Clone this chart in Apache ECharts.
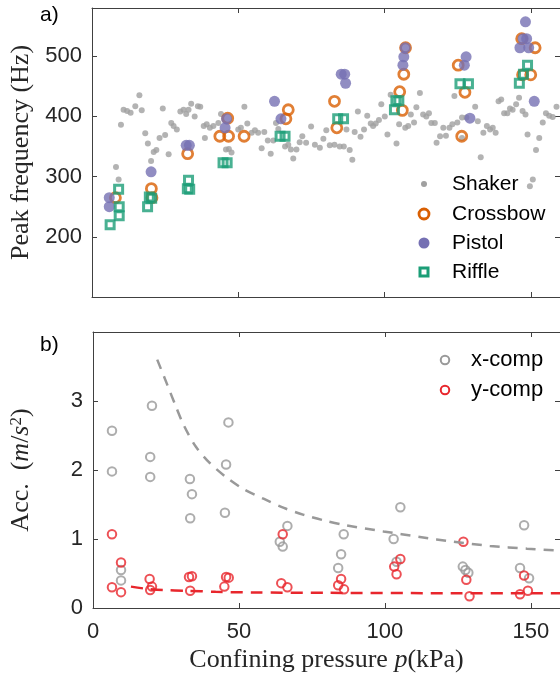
<!DOCTYPE html>
<html>
<head>
<meta charset="utf-8">
<title>Peak frequency / Acc.</title>
<script src="https://cdn.jsdelivr.net/npm/echarts@6/dist/echarts.min.js"></script>
<style>
  html, body { margin: 0; padding: 0; background: #fff; }
  #chart { width: 560px; height: 681px; }
</style>
</head>
<body>
<div id="chart"></div>
<script>
// ---- panel a) peak frequency (Hz) vs confining pressure (kPa) ----
var shaker = [
  [8.2,316],[9.1,295],[9.9,386],[10.8,411],[12,409],[13.2,406],[14.8,417],[16.2,435],[17,410],[18.2,372],
  [19.1,355],[20.2,326],[21.1,341],[22,344],[23.1,364],[24.2,413],[25,369],[26.2,337],[27.1,389],[27.9,384],
  [29,378],[30.2,408],[31.3,411],[32.2,404],[33,411],[33.9,421],[35.1,400],[36.2,417],[37,416],[38.2,384],
  [38.6,364],[39.2,387],[40.3,381],[41.5,384],[43.2,389],[44.1,404],[45.8,345],[46.8,346],[47.7,340],[50,378],
  [50.9,381],[52.1,416],[53.1,388],[54.6,373],[55.7,377],[56.8,373],[58,347],[58.9,374],[60.1,360],[61.1,338],
  [62,360],[62.9,389],[63.7,379],[66,350],[67.1,353],[68,345],[68.8,330],[69.9,345],[71,357],[71.9,367],
  [73.2,356],[74.9,383],[76.2,353],[77.9,348],[79.1,363],[80.1,377],[81.3,352],[82.9,353],[84.7,350],[86.1,350],
  [87,378],[88.1,344],[89,328],[89.8,374],[90.9,408],[91.8,366],[93,378],[94.1,401],[95.3,388],[96.1,384],
  [97,388],[98.1,394],[98.9,420],[100.1,400],[101,370],[102.1,436],[104.1,355],[105,387],[107.1,381],[108.1,384],
  [109,403],[110.1,390],[110.9,415],[112.1,439],[113.2,403],[114.3,400],[115.2,405],[116,389],[117.2,389],[117.8,356],
  [119,367],[120.1,381],[121,368],[122.2,381],[123.2,387],[123.9,434],[124.9,390],[126.5,398],[126.5,364],[128,398],
  [131,416],[131.9,392],[132.9,332],[133.8,373],[135,384],[136.1,378],[137,381],[138,373],[139,425],[139.9,428],
  [140.9,405],[142,405],[142.9,413],[143.8,411],[145,420],[146,431],[147.2,409],[148.2,403],[148.9,370],[149.7,284],
  [150.7,295],[151.8,344],[152.9,364],[154.1,390],[155.2,405],[156.3,401],[157.5,399],[158.8,416]
];
var crossbow = [
  [8,265],[20.3,280],[20.5,265],[32.7,338],[43.7,367],[46.4,397],[46.7,367],[52,367],[66.3,396],[67.1,411],
  [82.9,425],[83.7,381],[105.2,441],[106.1,410],[106.6,470],[107.2,514],[125.2,485],[126.4,367],[127.5,440],
  [146.9,529],[147.2,469],[150,469],[151.5,514]
];
var pistol = [
  [5.9,265],[5.9,250],[20.2,308],[32.2,352],[33.3,352],[45.5,381],[46,396],[62.4,425],[64.6,396],[85.2,470],
  [86.4,470],[86.7,455],[106.3,485],[106.6,499],[107.1,514],[127.3,485],[127.9,499],[129.2,397],[146.3,514],
  [147.4,529],[148.2,557],[148.6,529],[149.3,514],[151.2,425]
];
var riffle = [
  [6.2,220],[9.1,279],[9.3,250],[9.3,235],[19,250],[19.6,266],[20.4,264],[32.6,280],[33.4,279],[33,294],
  [44.8,323],[46.2,323],[64.3,367],[66,367],[84,396],[86,396],[103.4,411],[103.9,426],[104.9,426],
  [125.8,454],[128.7,454],[146.1,455],[147.5,470],[148.9,485]
];

// ---- panel b) acceleration (m/s^2) vs confining pressure ----
var xComp = [
  [6.5,2.57],[6.5,1.98],[9.6,0.55],[9.6,0.40],[20.2,2.93],[19.6,2.19],[19.6,1.90],[33.2,1.87],[33.9,1.65],[33.3,1.30],
  [46.4,2.69],[45.6,2.08],[45.2,1.38],[64,0.96],[65,0.89],[66.6,1.19],[84,0.58],[85,0.78],[85.9,1.07],[103,1.0],
  [104,0.67],[105.3,1.46],[126.7,0.60],[127.6,0.55],[128.6,0.51],[146.3,0.58],[147.7,1.20],[149.4,0.43]
];
var yComp = [
  [6.5,1.07],[9.6,0.66],[6.5,0.30],[9.6,0.23],[19.4,0.42],[20.2,0.31],[19.6,0.26],[32.9,0.45],[33.9,0.46],[33.3,0.25],
  [45.6,0.45],[46.5,0.44],[45,0.31],[65,1.07],[64.5,0.36],[66.6,0.30],[85,0.42],[84,0.33],[86,0.27],[105.3,0.71],
  [103.2,0.60],[104,0.49],[126.9,0.96],[127.9,0.41],[129,0.17],[147.7,0.47],[146.3,0.20],[149,0.25]
];
// dashed trend lines
var xFit = [
  [22,3.6],[25.5,3.23],[28.4,2.92],[31.2,2.64],[35.2,2.34],[39.8,2.11],[45.5,1.90],[51.7,1.72],[58.6,1.58],
  [65.4,1.45],[72.2,1.35],[79.1,1.27],[86.5,1.20],[99.5,1.11],[112,1.03],[123.4,0.96],[136,0.90],[148.7,0.86],[160,0.83]
];
var yFit = [
  [13,0.31],[18,0.28],[24,0.26],[32,0.25],[42,0.235],[55,0.225],[80,0.22],[120,0.215],[160,0.215]
];

// tick values
var pTicks = { min: 0, max: 160, interval: 50 };
var hzTicks = { min: 100, max: 580, interval: 100 };
var accTicks = { min: 0, max: 4, interval: 1 };

var axisColor = '#404040';
var labelFont = { fontFamily: 'Liberation Sans', fontSize: 22, color: '#262626' };
var serif = 'Liberation Serif';

// one axis with inward ticks, like a boxed plot
function boxAxis(grid, pos, ticks, withLabels) {
  return {
    type: 'value',
    gridIndex: grid,
    position: pos,
    min: ticks.min,
    max: ticks.max,
    interval: ticks.interval,
    axisLine: { show: true, onZero: false, lineStyle: { color: axisColor, width: 1 } },
    axisTick: { show: true, inside: true, length: 5, lineStyle: { color: axisColor } },
    axisLabel: {
      show: withLabels,
      showMinLabel: pos === 'bottom',
      showMaxLabel: false,
      margin: 10,
      fontFamily: labelFont.fontFamily,
      fontSize: labelFont.fontSize,
      color: labelFont.color
    },
    splitLine: { show: false }
  };
}

var xAxes = [
  boxAxis(0, 'bottom', pTicks, false),
  boxAxis(0, 'top', pTicks, false),
  boxAxis(1, 'bottom', pTicks, true),
  boxAxis(1, 'top', pTicks, false)
];
xAxes[2].axisLabel.margin = 13;
xAxes[2].name = 'Confining pressure {i|p}(kPa)';
xAxes[2].nameLocation = 'middle';
xAxes[2].nameGap = 39;
xAxes[2].nameTextStyle = {
  fontFamily: serif, fontSize: 26, color: '#262626',
  rich: { i: { fontFamily: serif, fontStyle: 'italic', fontSize: 26, color: '#262626' } }
};

var yAxes = [
  boxAxis(0, 'left', hzTicks, true),
  boxAxis(0, 'right', hzTicks, false),
  boxAxis(1, 'left', accTicks, true),
  boxAxis(1, 'right', accTicks, false)
];
yAxes[0].axisLabel.showMinLabel = false;
yAxes[0].name = 'Peak frequency (Hz)';
yAxes[0].nameLocation = 'middle';
yAxes[0].nameGap = 58;
yAxes[0].nameTextStyle = { fontFamily: serif, fontSize: 26, color: '#262626' };
yAxes[2].axisLabel.showMinLabel = true;
yAxes[2].name = 'Acc.  ({i|m}/{i|s}{sup|2})';
yAxes[2].nameLocation = 'middle';
yAxes[2].nameGap = 58;
yAxes[2].nameTextStyle = {
  fontFamily: serif, fontSize: 26, color: '#262626',
  rich: {
    i: { fontFamily: serif, fontStyle: 'italic', fontSize: 26, color: '#262626' },
    sup: { fontFamily: serif, fontSize: 17, color: '#262626', verticalAlign: 'top', padding: [0, 0, 10, 0] }
  }
};

var grayC = '#999999';
var redC = '#e8262c';

var myChart = echarts.init(document.getElementById('chart'));

var option = {
  animation: false,
  backgroundColor: '#fff',
  grid: [
    { left: 92, top: 8, width: 468, height: 289 },
    { left: 92, top: 332, width: 468, height: 276 }
  ],
  xAxis: xAxes,
  yAxis: yAxes,
  series: [
    {
      name: 'Shaker', type: 'scatter', xAxisIndex: 0, yAxisIndex: 0,
      data: shaker, symbol: 'circle', symbolSize: 6,
      itemStyle: { color: '#a0a0a0' }
    },
    {
      name: 'Crossbow', type: 'scatter', xAxisIndex: 0, yAxisIndex: 0,
      data: crossbow, symbol: 'circle', symbolSize: 10,
      itemStyle: { color: 'transparent', borderColor: '#d95f02', borderWidth: 2.8 }
    },
    {
      name: 'Pistol', type: 'scatter', xAxisIndex: 0, yAxisIndex: 0,
      data: pistol, symbol: 'circle', symbolSize: 11,
      itemStyle: { color: '#7570b3' }
    },
    {
      name: 'Riffle', type: 'scatter', xAxisIndex: 0, yAxisIndex: 0,
      data: riffle, symbol: 'rect', symbolSize: 8,
      itemStyle: { color: 'transparent', borderColor: '#1b9e77', borderWidth: 3 }
    },
    {
      name: 'x-fit', type: 'line', xAxisIndex: 2, yAxisIndex: 2,
      data: xFit, smooth: 0.3, showSymbol: false, symbol: 'none',
      lineStyle: { color: grayC, width: 2.5, type: [10, 8] }
    },
    {
      name: 'y-fit', type: 'line', xAxisIndex: 2, yAxisIndex: 2,
      data: yFit, smooth: 0.3, showSymbol: false, symbol: 'none',
      lineStyle: { color: redC, width: 2.5, type: [12, 8] }
    },
    {
      name: 'x-comp', type: 'scatter', xAxisIndex: 2, yAxisIndex: 2,
      data: xComp, symbol: 'circle', symbolSize: 8.5,
      itemStyle: { color: 'transparent', borderColor: grayC, borderWidth: 2 }
    },
    {
      name: 'y-comp', type: 'scatter', xAxisIndex: 2, yAxisIndex: 2,
      data: yComp, symbol: 'circle', symbolSize: 8.5,
      itemStyle: { color: 'transparent', borderColor: redC, borderWidth: 2 }
    }
  ],
  // panel letters and legends
  graphic: [
    { type: 'text', left: 40, top: 5, style: { text: 'a)', font: '21px "Liberation Sans"', fill: '#000' } },
    { type: 'text', left: 40, top: 335, style: { text: 'b)', font: '21px "Liberation Sans"', fill: '#000' } },

    { type: 'circle', shape: { cx: 424, cy: 184, r: 3 }, style: { fill: '#a0a0a0' } },
    { type: 'circle', shape: { cx: 424, cy: 214, r: 5 }, style: { fill: 'none', stroke: '#d95f02', lineWidth: 2.8 } },
    { type: 'circle', shape: { cx: 424, cy: 243, r: 5.5 }, style: { fill: '#7570b3' } },
    { type: 'rect', shape: { x: 420, y: 268, width: 8, height: 8 }, style: { fill: 'none', stroke: '#1b9e77', lineWidth: 3 } },
    { type: 'text', x: 452, y: 184, style: { text: 'Shaker', font: '21px "Liberation Sans"', fill: '#000', verticalAlign: 'middle' } },
    { type: 'text', x: 452, y: 214, style: { text: 'Crossbow', font: '21px "Liberation Sans"', fill: '#000', verticalAlign: 'middle' } },
    { type: 'text', x: 452, y: 243, style: { text: 'Pistol', font: '21px "Liberation Sans"', fill: '#000', verticalAlign: 'middle' } },
    { type: 'text', x: 452, y: 272, style: { text: 'Riffle', font: '21px "Liberation Sans"', fill: '#000', verticalAlign: 'middle' } },

    { type: 'circle', shape: { cx: 445, cy: 360, r: 4.25 }, style: { fill: 'none', stroke: grayC, lineWidth: 2 } },
    { type: 'circle', shape: { cx: 445, cy: 390, r: 4.25 }, style: { fill: 'none', stroke: redC, lineWidth: 2 } },
    { type: 'text', x: 471, y: 360, style: { text: 'x-comp', font: '22px "Liberation Sans"', fill: '#000', verticalAlign: 'middle' } },
    { type: 'text', x: 471, y: 390, style: { text: 'y-comp', font: '22px "Liberation Sans"', fill: '#000', verticalAlign: 'middle' } }
  ]
};

myChart.setOption(option);
</script>
</body>
</html>
